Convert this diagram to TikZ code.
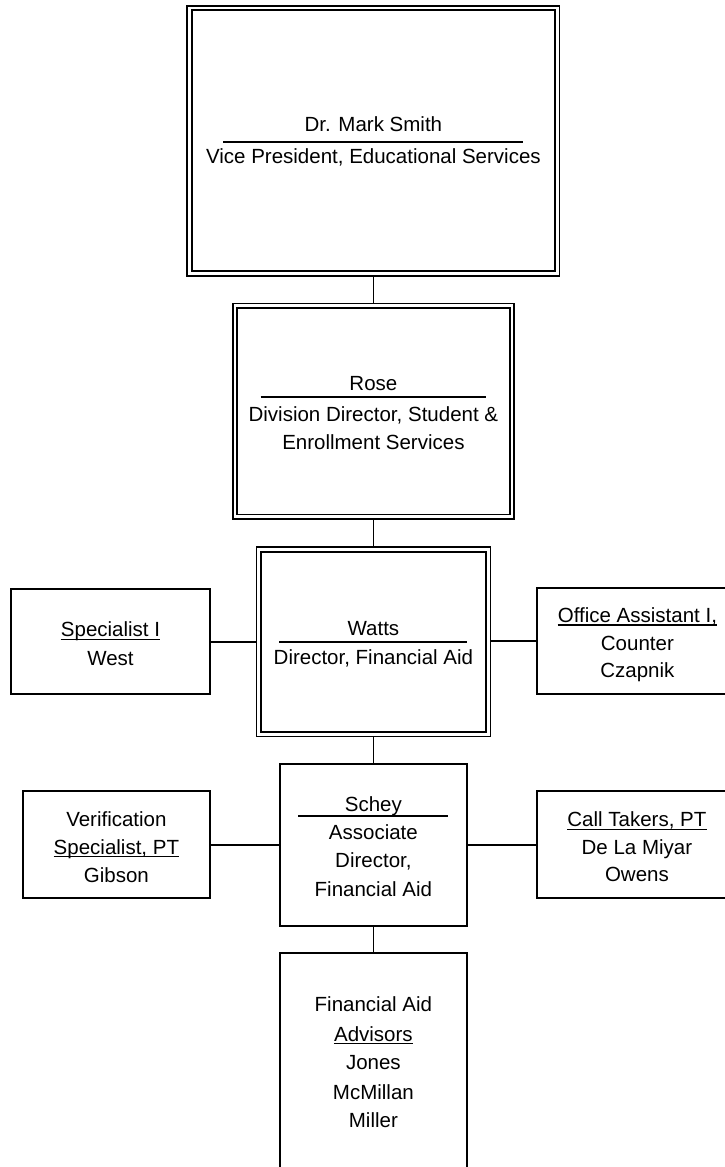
\documentclass[tikz,border=0pt]{standalone}
\usepackage{fontspec}
\setmainfont{Liberation Sans}
\begin{document}
\begin{tikzpicture}[x=1pt,y=-1pt,
  every node/.style={font=\fontsize{20.5}{28}\selectfont},
  txt/.style={anchor=base, inner sep=0pt},
  sbox/.style={draw, line width=2pt, inner sep=0pt},
  dbox/.style={draw, double, line width=1.7pt, double distance=2.8pt, inner sep=0pt, outer sep=2.3pt},
  conn/.style={line width=1.8pt},
  rulel/.style={line width=1.8pt},
  ul/.style={line width=1.3pt}]
\useasboundingbox (0,0) rectangle (725,1167);
\clip (0,0) rectangle (725,1167);

% boxes
\node[dbox, minimum width=367.7pt, minimum height=265.4pt] (vp) at (373.4,140.7) {};
\node[dbox, minimum width=277pt, minimum height=210.9pt] (rose) at (373.4,411.2) {};
\node[dbox, minimum width=229.5pt, minimum height=184.7pt] (watts) at (373.4,641.8) {};
\node[sbox, minimum width=199pt, minimum height=105pt] (spec) at (110.5,641.8) {};
\node[sbox, minimum width=201.3pt, minimum height=105.6pt] (office) at (637.4,641.0) {};
\node[sbox, minimum width=186.7pt, minimum height=162pt] (schey) at (373.4,845) {};
\node[sbox, minimum width=187.3pt, minimum height=107.6pt] (verif) at (116.4,844.5) {};
\node[sbox, minimum width=200.3pt, minimum height=107.6pt] (call) at (636.9,844.5) {};
\node[sbox, minimum width=186.7pt, minimum height=240pt] (adv) at (373.4,1073.3) {};

% connectors
\draw[conn] (vp.south) -- (rose.north);
\draw[conn] (rose.south) -- (watts.north);
\draw[conn] (watts.south) -- (schey.north);
\draw[conn] (schey.south) -- (adv.north);
\draw[conn] (spec.east) -- (spec.east -| watts.west);
\draw[conn] (watts.east |- office.west) -- (office.west);
\draw[conn] (schey.west) -- (schey.west -| verif.east);
\draw[conn] (schey.east) -- (schey.east -| call.west);

% top box text
\node[txt] (vpa) at (373.4,131.7) {Dr. Mark Smith};
\draw[rulel] (223.3,141.7) -- (522.7,141.7);
\node[txt] (vpb) at (373.4,163.3) {Vice President, Educational Services};

% Rose
\node[txt] (ra) at (373.4,390) {Rose};
\draw[rulel] (260.7,397.3) -- (486,397.3);
\node[txt] (rb) at (373.4,421) {Division Director, Student \&};
\node[txt] (rc) at (373.4,449.3) {Enrollment Services};

% Watts
\node[txt] (wa) at (373.4,635) {Watts};
\draw[rulel] (279.3,641.7) -- (467.3,641.7);
\node[txt] (wb) at (373.4,664) {Director, Financial Aid};

% Specialist I
\node[txt] (sa) at (110.5,636.7) {Specialist I};
\draw[ul] ([yshift=-2.5pt]sa.base west) -- ([yshift=-2.5pt]sa.base east);
\node[txt] (sb) at (110.5,665) {West};

% Office Assistant
\node[txt] (oa) at (637.4,622.5) {Office Assistant I,};
\draw[ul] ([yshift=-2.5pt]oa.base west) -- ([yshift=-2.5pt]oa.base east);
\node[txt] (ob) at (637.4,650) {Counter};
\node[txt] (oc) at (637.4,677.5) {Czapnik};

% Schey
\node[txt] (sca) at (373.4,811) {Schey};
\draw[rulel] (298.3,816) -- (448.3,816);
\node[txt] (scb) at (373.4,839.3) {Associate};
\node[txt] (scc) at (373.4,867.7) {Director,};
\node[txt] (scd) at (373.4,896) {Financial Aid};

% Verification
\node[txt] (va) at (116.4,826.7) {Verification};
\node[txt] (vb) at (116.4,854.3) {Specialist, PT};
\draw[ul] ([yshift=-2.5pt]vb.base west) -- ([yshift=-2.5pt]vb.base east);
\node[txt] (vc) at (116.4,882.5) {Gibson};

% Call Takers
\node[txt] (ca) at (636.9,826.7) {Call Takers, PT};
\draw[ul] ([yshift=-2.5pt]ca.base west) -- ([yshift=-2.5pt]ca.base east);
\node[txt] (cb) at (636.9,854.2) {De La Miyar};
\node[txt] (cc) at (636.9,881.7) {Owens};

% Advisors
\node[txt] (aa) at (373.4,1011.7) {Financial Aid};
\node[txt] (ab) at (373.4,1041) {Advisors};
\draw[ul] ([yshift=-2.5pt]ab.base west) -- ([yshift=-2.5pt]ab.base east);
\node[txt] (ac) at (373.4,1069.5) {Jones};
\node[txt] (ad) at (373.4,1099) {McMillan};
\node[txt] (ae) at (373.4,1127.7) {Miller};
\end{tikzpicture}
\end{document}
